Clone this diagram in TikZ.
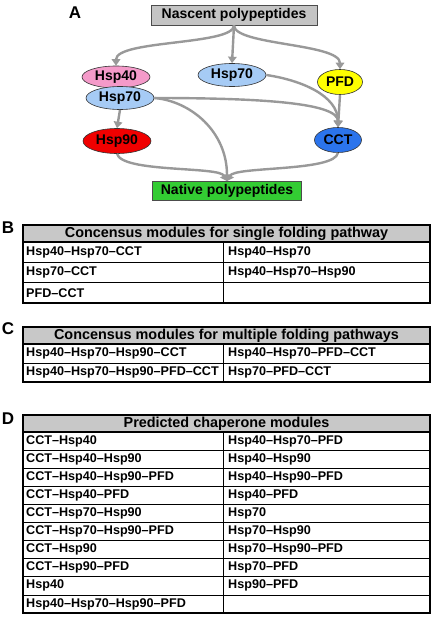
\documentclass[tikz,border=0pt]{standalone}
\usepackage{fontspec}
\setmainfont{Liberation Sans}
\usetikzlibrary{shapes.geometric,arrows.meta}
\definecolor{arrowgray}{HTML}{999999}
\definecolor{boxgray}{HTML}{C4C4C4}
\definecolor{headgray}{HTML}{C8C8C8}
\definecolor{hsppink}{HTML}{F49AC9}
\definecolor{hspblue}{HTML}{A6CBF5}
\definecolor{hspred}{HTML}{F00000}
\definecolor{pfdyellow}{HTML}{FFFF00}
\definecolor{cctblue}{HTML}{2B74EC}
\definecolor{natgreen}{HTML}{33CC33}
\tikzset{
  chap/.style={ellipse, draw=black!80, line width=0.6pt, inner sep=0pt,
    font=\fontsize{14}{16}\selectfont\bfseries},
  endbox/.style={rectangle, draw=black!70, line width=0.7pt, inner sep=0pt,
    font=\fontsize{14}{16}\selectfont\bfseries},
  flow/.style={draw=arrowgray, line width=2.4pt,
    -{Triangle[width=8.5pt,length=6.5pt]}},
  panel/.style={font=\fontsize{17}{19}\selectfont\bfseries},
  headtext/.style={font=\fontsize{14.4}{16}\selectfont\bfseries},
  celltext/.style={anchor=west, inner sep=0pt, font=\fontsize{12.6}{14}\selectfont\bfseries}
}
\begin{document}
\begin{tikzpicture}[x=1pt, y=-1pt]
  \useasboundingbox[fill=white] (0,0) rectangle (434,634);

  % panel A
  \node[panel] (labA) at (75,13) {A};
  \node[endbox, fill=boxgray, minimum width=166pt, minimum height=20pt] (nasc) at (234,15) {Nascent polypeptides};
  \node[chap, fill=hsppink, minimum width=68pt, minimum height=22pt] (hsp40) at (116,77) {Hsp40};
  \node[chap, fill=hspblue, minimum width=68pt, minimum height=23pt] (hsp70a) at (120,98) {Hsp70};
  \node[chap, fill=hspblue, minimum width=68pt, minimum height=23pt] (hsp70b) at (232,75) {Hsp70};
  \node[chap, fill=pfdyellow, minimum width=45pt, minimum height=25pt] (pfd) at (340,82) {PFD};
  \node[chap, fill=hspred, minimum width=68pt, minimum height=25pt] (hsp90) at (117,141) {Hsp90};
  \node[chap, fill=cctblue, minimum width=47pt, minimum height=25pt] (cct) at (338,140) {CCT};
  \node[endbox, fill=natgreen, minimum width=149pt, minimum height=19pt] (nat) at (227,191) {Native polypeptides};

  \draw[flow] (nasc.south) .. controls +(0,20) and +(0,-26) .. (hsp40.north);
  \draw[flow] (nasc.south) -- (hsp70b.north);
  \draw[flow] (nasc.south) .. controls +(0,20) and +(0,-26) .. (pfd.north);
  \draw[flow] (hsp70a.south) -- (hsp90.north);
  \draw[flow] (hsp70a.east) .. controls +(110,0) and +(0,-24) .. (cct.north);
  \draw[flow] (hsp70a.east) .. controls +(36,3) and +(0,-50) .. (nat.north);
  \draw[flow] (hsp70b.east) .. controls +(34,5) and +(0,-32) .. (cct.north);
  \draw[flow] (pfd.south) -- (cct.north);
  \draw[flow] (hsp90.south) .. controls +(5,19) and +(-8,-15) .. (nat.north);
  \draw[flow] (cct.south) .. controls +(-3,19) and +(8,-15) .. (nat.north);

  % panel B
  \node[panel] (labB) at (8,228) {B};
  \fill[headgray] (23,225) rectangle (430,242);
  \foreach \y in {262.3,282.6} \draw[line width=0.8pt] (23,\y) -- (430,\y);
  \draw[line width=0.8pt] (223,242) -- (223,303);
  \draw[line width=1.8pt] (23,242) -- (430,242);
  \draw[line width=2.4pt] (23,225) rectangle (430,303);
  \node[headtext] (headB) at (226.5,233.5) {Concensus modules for single folding pathway};
  \foreach \txt [count=\i] in {Hsp40–Hsp70–CCT, Hsp70–CCT, PFD–CCT}
    \node[celltext] (b-l-\i) at (26,{242+20.33*(\i-0.5)}) {\txt};
  \foreach \txt [count=\i] in {Hsp40–Hsp70, Hsp40–Hsp70–Hsp90}
    \node[celltext] (b-r-\i) at (228,{242+20.33*(\i-0.5)}) {\txt};

  % panel C
  \node[panel] (labC) at (8,329) {C};
  \fill[headgray] (23,327) rectangle (430,344);
  \draw[line width=0.8pt] (23,363) -- (430,363);
  \draw[line width=0.8pt] (223,344) -- (223,382);
  \draw[line width=1.8pt] (23,344) -- (430,344);
  \draw[line width=2.4pt] (23,327) rectangle (430,382);
  \node[headtext] (headC) at (226.5,335.5) {Concensus modules for multiple folding pathways};
  \foreach \txt [count=\i] in {Hsp40–Hsp70–Hsp90–CCT, Hsp40–Hsp70–Hsp90–PFD–CCT}
    \node[celltext] (c-l-\i) at (26,{344+19*(\i-0.5)}) {\txt};
  \foreach \txt [count=\i] in {Hsp40–Hsp70–PFD–CCT, Hsp70–PFD–CCT}
    \node[celltext] (c-r-\i) at (228,{344+19*(\i-0.5)}) {\txt};

  % panel D
  \node[panel] (labD) at (8,419) {D};
  \fill[headgray] (23,415) rectangle (430,432);
  \foreach \k in {1,...,9} \draw[line width=0.8pt] (23,{432+18.1*\k}) -- (430,{432+18.1*\k});
  \draw[line width=0.8pt] (223,432) -- (223,613);
  \draw[line width=1.8pt] (23,432) -- (430,432);
  \draw[line width=2.4pt] (23,415) rectangle (430,613);
  \node[headtext] (headD) at (226.5,423.5) {Predicted chaperone modules};
  \foreach \txt [count=\i] in {CCT–Hsp40, CCT–Hsp40–Hsp90, CCT–Hsp40–Hsp90–PFD, CCT–Hsp40–PFD,
      CCT–Hsp70–Hsp90, CCT–Hsp70–Hsp90–PFD, CCT–Hsp90, CCT–Hsp90–PFD, Hsp40, Hsp40–Hsp70–Hsp90–PFD}
    \node[celltext] (d-l-\i) at (26,{432+18.1*(\i-0.5)}) {\txt};
  \foreach \txt [count=\i] in {Hsp40–Hsp70–PFD, Hsp40–Hsp90, Hsp40–Hsp90–PFD, Hsp40–PFD,
      Hsp70, Hsp70–Hsp90, Hsp70–Hsp90–PFD, Hsp70–PFD, Hsp90–PFD}
    \node[celltext] (d-r-\i) at (228,{432+18.1*(\i-0.5)}) {\txt};
\end{tikzpicture}
\end{document}
